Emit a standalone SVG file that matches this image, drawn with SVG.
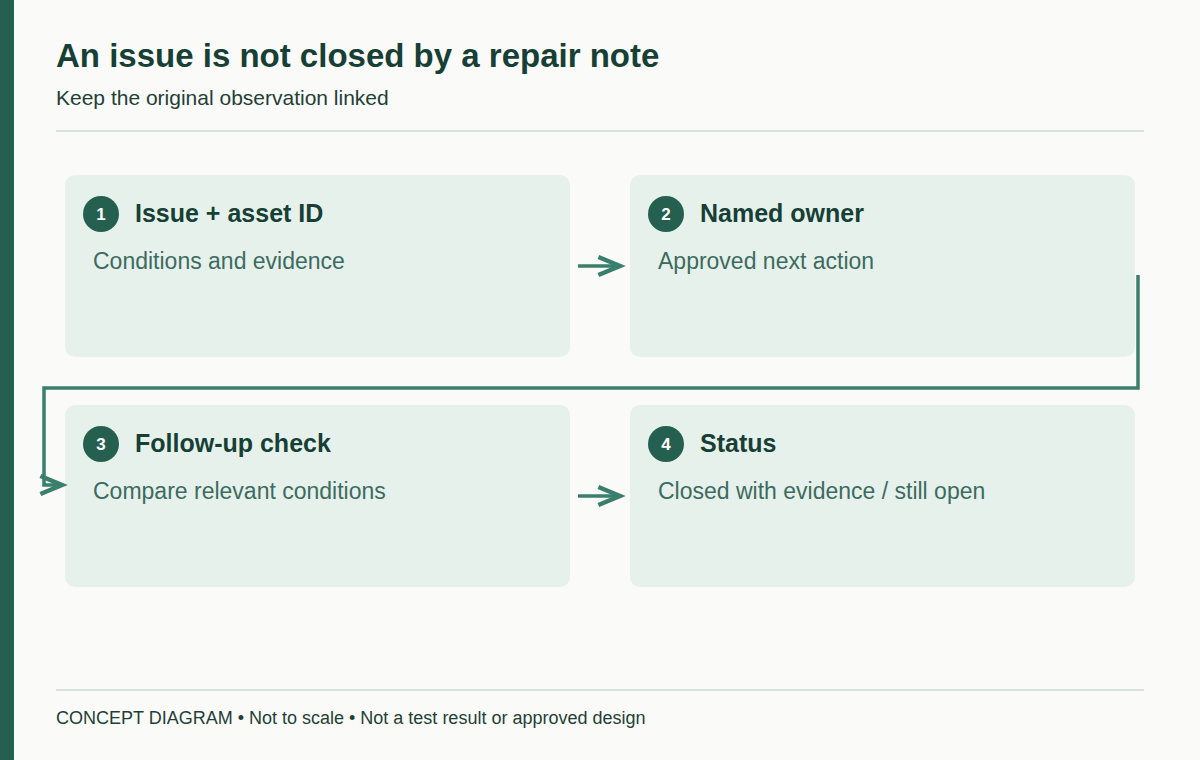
<svg xmlns="http://www.w3.org/2000/svg" width="1200" height="760" viewBox="0 0 1200 760">
<defs>
<style>
text{font-family:"Liberation Sans",Arial,sans-serif}
.box{fill:#e6f1ec}
.num{fill:#245f50}
.nt{fill:#fff;font-size:17px;font-weight:bold;text-anchor:middle}
.t{fill:#173f35;font-size:25px;font-weight:bold}
.s{fill:#3d6b5f;font-size:23px}
.c{fill:none;stroke:#3a7f6d;stroke-width:3.5}
</style>
<marker id="ah" viewBox="0 0 10 10" refX="9" refY="5" markerWidth="9" markerHeight="9" markerUnits="userSpaceOnUse" orient="auto" overflow="visible">
<path d="M-24,-10 L0,0 L-24,10" transform="translate(9,5)" fill="none" stroke="#3a7f6d" stroke-width="5"/>
</marker>
</defs>
<rect width="1200" height="760" fill="#fafaf8"/>
<rect width="14" height="760" fill="#245f50"/>
<text x="56" y="67" font-size="33" font-weight="bold" fill="#173f35">An issue is not closed by a repair note</text>
<text x="56" y="105" font-size="21" fill="#1f3f37">Keep the original observation linked</text>
<line x1="56" y1="131" x2="1144" y2="131" stroke="#d6e2dc" stroke-width="2"/>
<line x1="56" y1="690" x2="1144" y2="690" stroke="#d6e2dc" stroke-width="2"/>
<text x="56" y="724" font-size="18" fill="#1f3f37">CONCEPT DIAGRAM • Not to scale • Not a test result or approved design</text>
<g id="node1"><rect class="box" x="65" y="175" width="505" height="182" rx="10"/><circle class="num" cx="101" cy="214" r="18"/><text class="nt" x="101" y="220">1</text><text class="t" x="135" y="222">Issue + asset ID</text><text class="s" x="93" y="269">Conditions and evidence</text></g>
<g id="node2"><rect class="box" x="630" y="175" width="505" height="182" rx="10"/><circle class="num" cx="666" cy="214" r="18"/><text class="nt" x="666" y="220">2</text><text class="t" x="700" y="222">Named owner</text><text class="s" x="658" y="269">Approved next action</text></g>
<g id="node3"><rect class="box" x="65" y="405" width="505" height="182" rx="10"/><circle class="num" cx="101" cy="444" r="18"/><text class="nt" x="101" y="450">3</text><text class="t" x="135" y="452">Follow-up check</text><text class="s" x="93" y="499">Compare relevant conditions</text></g>
<g id="node4"><rect class="box" x="630" y="405" width="505" height="182" rx="10"/><circle class="num" cx="666" cy="444" r="18"/><text class="nt" x="666" y="450">4</text><text class="t" x="700" y="452">Status</text><text class="s" x="658" y="499">Closed with evidence / still open</text></g>
<g id="connectors">
<path class="c" d="M578,266 H620" marker-end="url(#ah)"/>
<path class="c" d="M578,496 H620" marker-end="url(#ah)"/>
<path class="c" d="M1138,275 V388 H44 V485 H62" marker-end="url(#ah)"/>
</g>
</svg>
